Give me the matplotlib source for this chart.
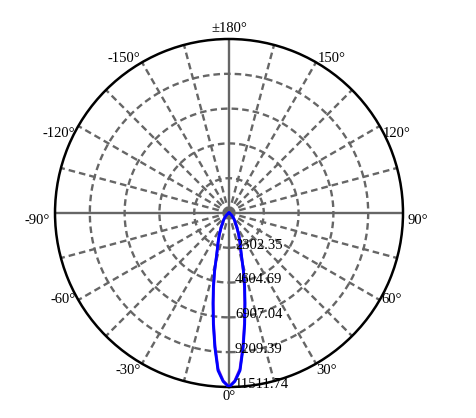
import numpy as np
import matplotlib.pyplot as plt

# polar candela data (gamma in degrees, intensity in cd)
gamma = [0, 2, 4, 6, 8, 10, 12, 14, 16, 18, 20, 24, 28, 32, 36, 40, 45, 50, 55, 60, 70, 80, 90, 180]
c0_180 = [11511.74, 11150, 10450, 8950, 7450, 6100, 4980, 3950, 3050, 2500, 2150, 1600, 1150, 830, 650, 500, 330, 220, 120, 60, 20, 5, 0, 0]
c90_270 = [11511.74, 11100, 10350, 8850, 7350, 6000, 4880, 3900, 3000, 2450, 2100, 1580, 1130, 820, 640, 490, 320, 210, 110, 55, 18, 4, 0, 0]

ring_labels = ['2302.35', '4604.69', '6907.04', '9209.39', '11511.74']
ring_values = [2302.35, 4604.69, 6907.04, 9209.39, 11511.74]
angle_labels = ['0°', '30°', '60°', '90°', '120°', '150°', '±180°',
                '-150°', '-120°', '-90°', '-60°', '-30°']
angle_pos = [0, 30, 60, 90, 120, 150, 180, -150, -120, -90, -60, -30]

rmax = ring_values[-1]

fig = plt.figure(figsize=(4.77, 4.18), dpi=100)
ax = fig.add_axes([0.1153, 0.0742, 0.7296, 0.8325], projection='polar')
ax.set_theta_zero_location('S')
ax.set_theta_direction(1)
ax.set_ylim(0, rmax)
ax.grid(False)
ax.set_xticks([])
ax.set_yticks([])
ax.spines['polar'].set_linewidth(1.8)
ax.spines['polar'].set_color('black')

gray = '#666666'
# spokes every 15 deg
for a in range(0, 360, 15):
    t = np.radians(a)
    if a % 90 == 0:
        ax.plot([t, t], [0, rmax], color=gray, lw=1.7, zorder=1)
    else:
        ax.plot([t, t], [0, rmax], color=gray, lw=1.7, ls=(0, (2.8, 1.7)), zorder=1)
# rings
tt = np.linspace(0, 2 * np.pi, 400)
for r in ring_values[:-1]:
    ax.plot(tt, np.full_like(tt, r), color=gray, lw=1.7, ls=(0, (2.8, 1.7)), zorder=1)

# curves, mirrored on both sides
g = np.array(gamma, dtype=float)
for vals, col in [(c90_270, '#7a1fe0'), (c0_180, '#0000ff')]:
    v = np.array(vals)
    th = np.radians(np.concatenate([-g[::-1], g[1:]]))
    rr = np.concatenate([v[::-1], v[1:]])
    ax.plot(th, rr, color=col, lw=2.0, zorder=3)

font = dict(family='Liberation Serif', fontsize=10.5)

# ring labels along 0 deg
for lab, r in zip(ring_labels, ring_values):
    ax.annotate(lab, xy=(0, r), xytext=(4.3, 2), textcoords='offset points',
                ha='left', va='center', zorder=4, annotation_clip=False, **font)

# angle labels
place = {0: ('center', 'top', 0, -2), 30: ('left', 'top', 0.5, 0), 60: ('left', 'center', 1.5, 0.5),
         90: ('left', 'top', 3.5, -1), 120: ('left', 'top', 2, -1), 150: ('left', 'center', 1.5, 3),
         180: ('center', 'bottom', 0, 3)}
for lab, a in zip(angle_labels, angle_pos):
    ha, va, dx, dy = place[abs(a)]
    if a < 0:
        ha = 'right'
        dx = -dx
    ax.annotate(lab, xy=(np.radians(a), rmax), xytext=(dx, dy), textcoords='offset points',
                ha=ha, va=va, annotation_clip=False, **font)

fig.savefig('out.png', dpi=100)
